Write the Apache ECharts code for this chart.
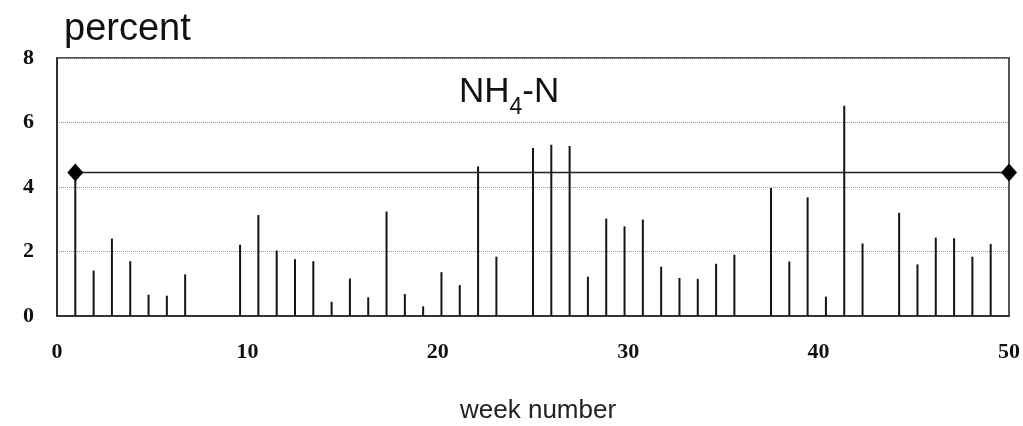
<!DOCTYPE html>
<html>
<head>
<meta charset="utf-8">
<script src="https://cdn.jsdelivr.net/npm/echarts@6/dist/echarts.min.js"></script>
<style>
html,body{margin:0;padding:0;background:#fff;}
#chart{width:1023px;height:426px;}
</style>
</head>
<body>
<div id="chart"></div>
<script>
// Data
const weeks = [1,2,3,4,5,6,7,10,11,12,13,14,15,16,17,18,19,20,21,22,23,24,26,27,28,29,30,31,32,33,34,35,36,37,39,40,41,42,43,44,46,47,48,49,50,51];
const nh4n = [4.45,1.41,2.40,1.70,0.66,0.63,1.29,2.21,3.13,2.03,1.76,1.70,0.44,1.16,0.58,3.24,0.68,0.30,1.36,0.96,4.64,1.84,5.21,5.31,5.27,1.22,3.02,2.78,2.99,1.53,1.18,1.15,1.62,1.90,3.97,1.69,3.68,0.60,6.52,2.25,3.20,1.60,2.43,2.41,1.84,2.23];
const refWeeks = [1, 52];
const refLevel = 4.45;
const xTickLabels = [0, 10, 20, 30, 40, 50];
const yTickLabels = [0, 2, 4, 6, 8];

const chart = echarts.init(document.getElementById('chart'), null, {renderer: 'canvas'});
const serif = '"Liberation Serif", "Times New Roman", serif';
const sans = '"Liberation Sans", Arial, sans-serif';

chart.setOption({
  backgroundColor: '#ffffff',
  animation: false,
  title: [
    {
      text: 'percent', left: 59, top: 6,
      textStyle: {fontFamily: sans, fontSize: 38, fontWeight: 'normal', color: '#111'}
    },
    {
      text: '{a|NH}{s|4}{a|-N}', left: 454, top: 61,
      textStyle: {
        fontWeight: 'normal',
        rich: {
          a: {fontFamily: sans, fontSize: 35, fontWeight: 'normal', color: '#111'},
          s: {fontFamily: sans, fontSize: 23, fontWeight: 'normal', color: '#111', padding: [30, 0, 0, 0]}
        }
      }
    },
    {
      text: 'week number', left: 455, top: 393,
      textStyle: {fontFamily: sans, fontSize: 26, fontWeight: 'normal', color: '#222'}
    }
  ],
  grid: {
    left: 57, right: 14, top: 58, bottom: 110,
    show: true, borderColor: '#222', borderWidth: 1.5, backgroundColor: 'transparent'
  },
  xAxis: [
    {
      type: 'value', min: 0, max: 50, interval: 10,
      axisLine: {show: true, lineStyle: {color: '#222', width: 1.5}},
      axisTick: {show: false},
      splitLine: {show: false},
      axisLabel: {
        margin: 25, fontFamily: serif, fontSize: 22, fontWeight: 'bold', color: '#111',
        formatter: v => xTickLabels.includes(v) ? String(v) : ''
      }
    },
    {
      type: 'value', min: 0, max: 52, show: false
    }
  ],
  yAxis: {
    type: 'value', min: 0, max: 8, interval: 2,
    axisLine: {show: true, lineStyle: {color: '#222', width: 1.5}},
    axisTick: {show: false},
    splitLine: {show: true, lineStyle: {color: '#9a9a9a', type: 'dotted', width: 1}},
    axisLabel: {
      margin: 23, fontFamily: serif, fontSize: 22, fontWeight: 'bold', color: '#111',
      formatter: v => yTickLabels.includes(v) ? String(v) : ''
    }
  },
  series: [
    {
      type: 'bar', xAxisIndex: 1, yAxisIndex: 0,
      barWidth: 2,
      itemStyle: {color: '#151515'},
      data: weeks.map((w, i) => [w, nh4n[i]]),
      z: 2
    },
    {
      type: 'line', xAxisIndex: 1, yAxisIndex: 0,
      data: refWeeks.map(w => [w, refLevel]),
      symbol: 'diamond', symbolSize: [16, 18],
      lineStyle: {color: '#222', width: 1.5},
      itemStyle: {color: '#000'},
      z: 3
    }
  ]
});
</script>
</body>
</html>
